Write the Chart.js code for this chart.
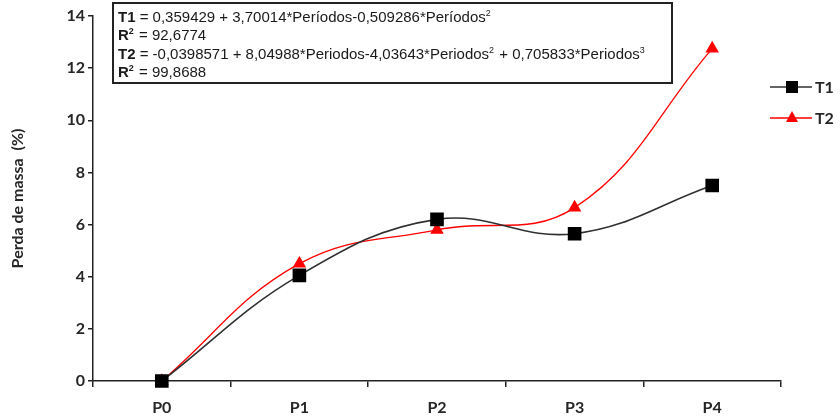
<!DOCTYPE html>
<html><head><meta charset="utf-8">
<script src="https://cdn.jsdelivr.net/npm/chart.js@4"></script>
<style>html,body{margin:0;padding:0;background:#fff}#wrap{width:840px;height:419px;position:relative}</style>
</head><body><div id="wrap"><canvas id="c" width="840" height="419"></canvas></div>
<script>
const categories = ["P0", "P1", "P2", "P3", "P4"];
const t1Values = [0, 4.05, 6.2, 5.65, 7.5];
const t2Values = [0, 4.5, 5.8, 6.65, 12.75];
const yTicks = [0, 2, 4, 6, 8, 10, 12, 14];
const seriesNames = ["T1", "T2"];
const yTitle = "Perda de massa  (%)";
const eqLines = [
  [{t:"T1", b:true},{t:" = 0,359429 + 3,70014*Períodos-0,509286*Períodos"},{t:"2", s:true}],
  [{t:"R", b:true},{t:"2", s:true, b:true},{t:" = 92,6774"}],
  [{t:"T2", b:true},{t:" = -0,0398571 + 8,04988*Periodos-4,03643*Periodos"},{t:"2", s:true},{t:" + 0,705833*Periodos"},{t:"3", s:true}],
  [{t:"R", b:true},{t:"2", s:true, b:true},{t:" = 99,8688"}]
];

const tickFont = {family: "Lato, 'Open Sans', sans-serif", size: 16, weight: "bold"};
const textColor = "#262626";

const overlay = {
  id: "overlay",
  afterDraw(chart) {
    const ctx = chart.ctx;
    ctx.save();
    ctx.strokeStyle = "#222";
    ctx.lineWidth = 2;
    ctx.strokeRect(113, 3, 559, 80);
    ctx.fillStyle = "#1a1a1a";
    ctx.textBaseline = "alphabetic";
    const base = [22, 40, 59, 77];
    eqLines.forEach((line, i) => {
      let x = 118;
      line.forEach(seg => {
        const size = seg.s ? 9 : 15;
        ctx.font = (seg.b ? "bold " : "") + size + "px 'Liberation Sans', Arial, sans-serif";
        const y = seg.s ? base[i] - 6 : base[i];
        ctx.fillText(seg.t, x, y);
        x += ctx.measureText(seg.t).width + (seg.s ? 1 : 0);
      });
    });
    chart.data.datasets.forEach((ds, i) => {
      const y = 87 + i * 31;
      ctx.strokeStyle = ds.borderColor;
      ctx.lineWidth = 1.5;
      ctx.beginPath(); ctx.moveTo(770, y); ctx.lineTo(812, y); ctx.stroke();
      ctx.fillStyle = ds.pointBackgroundColor;
      if (ds.pointStyle === "rect") {
        ctx.fillRect(786, y - 6, 12, 12);
      } else {
        ctx.beginPath(); ctx.moveTo(792, y - 7); ctx.lineTo(798, y + 4); ctx.lineTo(786, y + 4); ctx.closePath(); ctx.fill();
      }
      ctx.fillStyle = textColor;
      ctx.font = "bold 16px Lato, 'Open Sans', sans-serif";
      ctx.textBaseline = "middle";
      ctx.fillText(seriesNames[i], 815, y + 1);
    });
    ctx.restore();
  }
};

new Chart(document.getElementById("c"), {
  type: "line",
  data: {
    labels: categories,
    datasets: [
      {label: seriesNames[0], data: t1Values, borderColor: "#303030", backgroundColor: "#000",
       pointBackgroundColor: "#000", pointBorderColor: "#000", pointStyle: "rect", pointRadius: 8.5,
       borderWidth: 1.6, tension: 0.4, clip: false},
      {label: seriesNames[1], data: t2Values, borderColor: "#ff0000", backgroundColor: "#ff0000",
       pointBackgroundColor: "#ff0000", pointBorderColor: "#ff0000", pointStyle: "triangle", pointRadius: 6.5,
       borderWidth: 1.3, tension: 0.4, clip: false}
    ]
  },
  options: {
    responsive: false,
    animation: false,
    layout: {padding: {left: 0, right: 59, top: 16, bottom: 0}},
    plugins: {legend: {display: false}, tooltip: {enabled: false}},
    scales: {
      x: {
        offset: true,
        grid: {display: true, offset: true, drawOnChartArea: false, drawTicks: true, tickLength: 6, color: "#222", lineWidth: 1.5},
        border: {display: true, color: "#222", width: 1.5},
        ticks: {font: tickFont, color: textColor, padding: 11},
        afterFit(s) { s.height = 38; }
      },
      y: {
        min: 0, max: 14,
        afterBuildTicks(s) { s.ticks = yTicks.map(v => ({value: v})); },
        grid: {display: true, drawOnChartArea: false, drawTicks: true, tickLength: 5, color: "#222", lineWidth: 1.5},
        border: {display: true, color: "#222", width: 1.5},
        ticks: {font: tickFont, color: textColor, padding: 3},
        title: {display: true, text: yTitle, font: {family: "Lato, 'Open Sans', sans-serif", size: 16, weight: "bold"}, color: textColor, padding: {top: 8, bottom: 18}},
        afterFit(s) { s.width = 93; }
      }
    }
  },
  plugins: [overlay]
});
</script></body></html>
